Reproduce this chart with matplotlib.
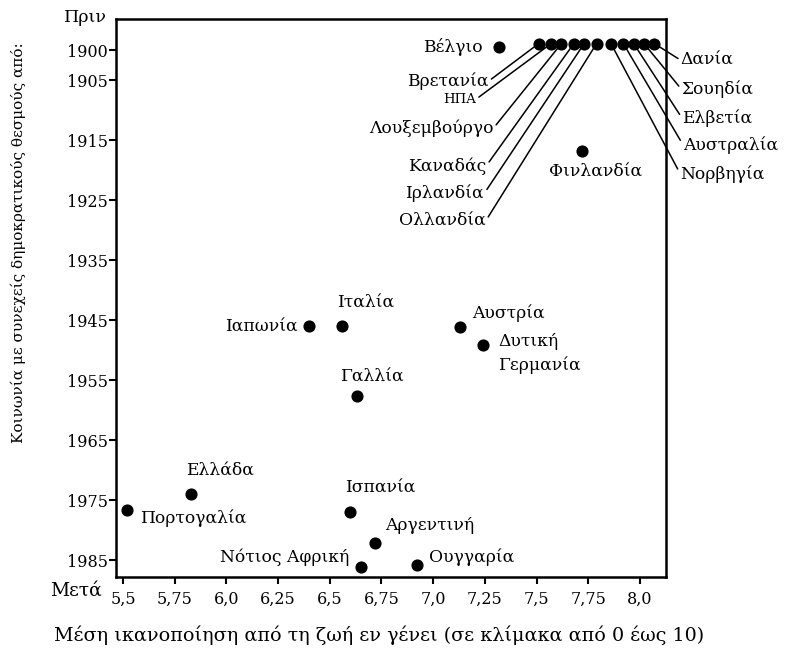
import matplotlib.pyplot as plt

# data
countries = ['Βέλγιο', 'Βρετανία', 'ΗΠΑ', 'Λουξεμβούργο', 'Καναδάς', 'Ιρλανδία',
             'Ολλανδία', 'Νορβηγία', 'Αυστραλία', 'Ελβετία', 'Σουηδία', 'Δανία',
             'Φινλανδία', 'Ιαπωνία', 'Ιταλία', 'Αυστρία', 'Δυτική\nΓερμανία',
             'Γαλλία', 'Ελλάδα', 'Πορτογαλία', 'Ισπανία', 'Αργεντινή',
             'Νότιος Αφρική', 'Ουγγαρία']
satisfaction = [7.32, 7.51, 7.57, 7.62, 7.68, 7.73,
                7.79, 7.86, 7.92, 7.97, 8.02, 8.07,
                7.72, 6.40, 6.56, 7.13, 7.24,
                6.63, 5.83, 5.52, 6.60, 6.72,
                6.65, 6.92]
democracy_since = [1899.4, 1898.9, 1898.9, 1898.9, 1898.9, 1898.9,
                   1898.9, 1898.9, 1898.9, 1898.9, 1898.9, 1898.9,
                   1916.8, 1945.9, 1945.9, 1946.1, 1949.1,
                   1957.7, 1974.0, 1976.6, 1977.0, 1982.2,
                   1986.2, 1985.8]

x_ticks = [5.5, 5.75, 6.0, 6.25, 6.5, 6.75, 7.0, 7.25, 7.5, 7.75, 8.0]
x_tick_labels = ['5,5', '5,75', '6,0', '6,25', '6,5', '6,75', '7,0', '7,25', '7,5', '7,75', '8,0']
y_ticks = [1900, 1905, 1915, 1925, 1935, 1945, 1955, 1965, 1975, 1985]

# label placement: offset in points from the dot, alignment, leader line
label_pos = {
    'Βέλγιο': (-12, 0, 'right', False),
    'Βρετανία': (-36, -27, 'right', True),
    'ΗΠΑ': (-54, -40, 'right', True),
    'Λουξεμβούργο': (-49, -61, 'right', True),
    'Καναδάς': (-63, -88, 'right', True),
    'Ιρλανδία': (-72, -108, 'right', True),
    'Ολλανδία': (-80, -128, 'right', True),
    'Νορβηγία': (50, -94, 'left', True),
    'Αυστραλία': (43, -73, 'left', True),
    'Ελβετία': (35, -54, 'left', True),
    'Σουηδία': (27, -33, 'left', True),
    'Δανία': (19, -12, 'left', True),
    'Φινλανδία': (10, -15, 'center', False),
    'Ιαπωνία': (-8, -1, 'right', False),
    'Ιταλία': (-4, 16, 'left', False),
    'Αυστρία': (9, 10, 'left', False),
    'Δυτική\nΓερμανία': (11, -6, 'left', False),
    'Γαλλία': (11, 14, 'center', False),
    'Ελλάδα': (-4, 17, 'left', False),
    'Πορτογαλία': (9, -6, 'left', False),
    'Ισπανία': (-4, 17, 'left', False),
    'Αργεντινή': (7, 13, 'left', False),
    'Νότιος Αφρική': (-8, 7, 'right', False),
    'Ουγγαρία': (9, 6, 'left', False),
}

plt.rcParams['font.family'] = ['DejaVu Serif']

fig = plt.figure(figsize=(7.92, 6.56), dpi=100)
ax = fig.add_axes([0.1465, 0.1204, 0.6944, 0.8506])

ax.scatter(satisfaction, democracy_since, s=60, color='black', zorder=5)

for name, x, y in zip(countries, satisfaction, democracy_since):
    dx, dy, ha, line = label_pos[name]
    size = 9.5 if name == 'ΗΠΑ' else 12.3
    if line:
        ax.annotate(name, (x, y), xytext=(dx, dy), textcoords='offset points',
                    ha=ha, va='center', fontsize=size,
                    arrowprops=dict(arrowstyle='-', color='black', lw=1.1,
                                    relpos=(1, 0.5) if ha == 'right' else (0, 0.5),
                                    shrinkA=0, shrinkB=0))
    else:
        ax.annotate(name, (x, y), xytext=(dx, dy), textcoords='offset points',
                    ha=ha, va='center', fontsize=size, linespacing=1.45)

ax.set_xlim(5.466, 8.126)
ax.set_ylim(1987.8, 1894.8)
ax.set_xticks(x_ticks)
ax.set_xticklabels(x_tick_labels)
ax.set_yticks(y_ticks)
ax.tick_params(axis='both', direction='out', length=5, width=1.5, labelsize=11.5, color='black')
ax.tick_params(axis='y', pad=1)
ax.tick_params(axis='x', pad=5)
for sp in ax.spines.values():
    sp.set_linewidth(1.8)

fig.text(107 / 792, 1 - 18 / 656, 'Πριν', ha='right', va='center', fontsize=12.5)
fig.text(102 / 792, 1 - 591 / 656, 'Μετά', ha='right', va='center', fontsize=13.5)
fig.text(18 / 792, 1 - 243 / 656, 'Κοινωνία με συνεχείς δημοκρατικούς θεσμούς από:',
         rotation=90, ha='center', va='center', fontsize=11)
fig.text(379 / 792, 1 - 635 / 656,
         'Μέση ικανοποίηση από τη ζωή εν γένει (σε κλίμακα από 0 έως 10)',
         ha='center', va='center', fontsize=13.8)

fig.savefig('out.png', dpi=100)
